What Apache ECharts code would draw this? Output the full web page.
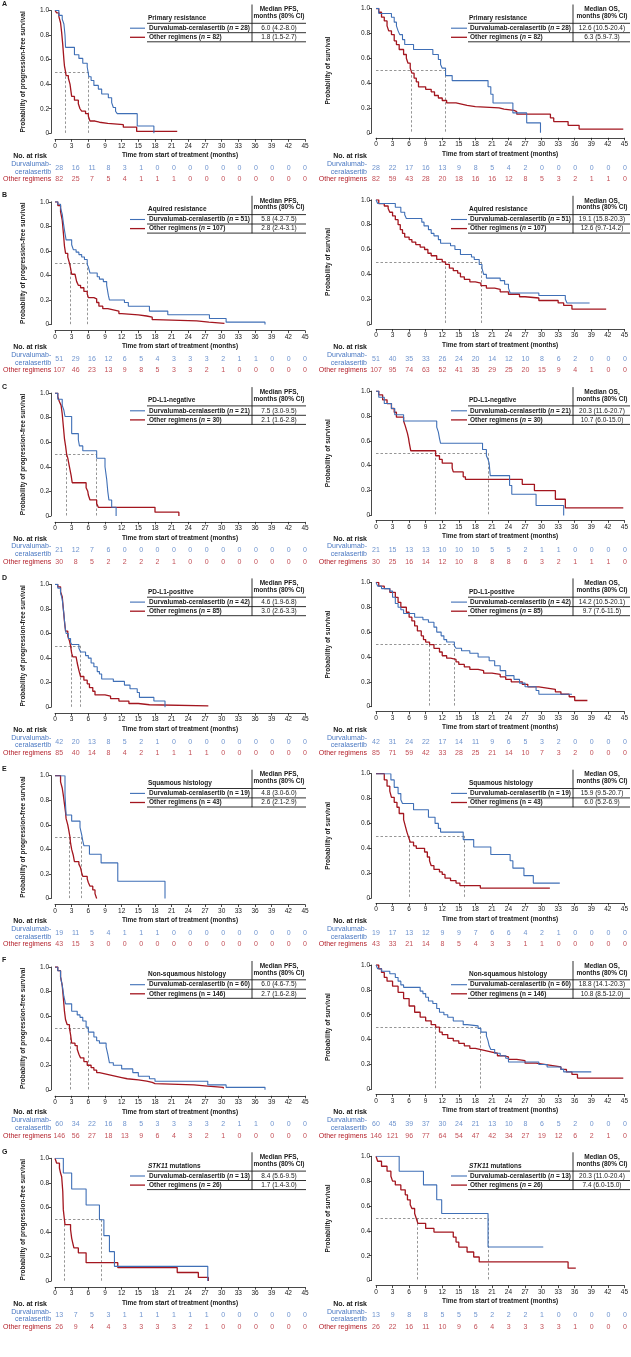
<!DOCTYPE html>
<html><head><meta charset="utf-8">
<script src="https://cdn.jsdelivr.net/npm/echarts@6/dist/echarts.min.js"></script>
<style>html,body{margin:0;padding:0;background:#fff}#c{width:631px;height:1357px}</style>
</head><body><div id="c"></div>
<script>
// ---------- DATA ----------
const panelLetters = ['A','B','C','D','E','F','G'];
const subgroupNames = ['Primary resistance','Aquired resistance','PD-L1-negative','PD-L1-positive','Squamous histology','Non-squamous histology','STK11 mutations'];
const italicN = [true,true,true,true,false,false,true];
const nDurva = [28,51,21,42,19,60,13];
const nOther = [82,107,30,85,43,146,26];
const pfsMedianDurva = [6.0,5.8,7.5,4.6,4.8,6.0,8.4];
const pfsMedianOther = [1.8,2.8,2.1,3.0,2.6,2.7,1.7];
const osMedianDurva = [12.6,19.1,20.3,14.2,15.9,18.8,20.3];
const osMedianOther = [6.3,12.6,10.7,9.7,6.0,10.8,7.4];
const pfsCiDurva = ['(4.2-8.0)','(4.2-7.5)','(3.0-9.5)','(1.9-6.8)','(3.0-6.0)','(4.6-7.5)','(5.6-9.5)'];
const pfsCiOther = ['(1.5-2.7)','(2.4-3.1)','(1.6-2.8)','(2.6-3.3)','(2.1-2.9)','(1.6-2.8)','(1.4-3.0)'];
const osCiDurva = ['(10.5-20.4)','(15.8-20.3)','(11.6-20.7)','(10.5-20.1)','(9.5-20.7)','(14.1-20.3)','(11.0-20.4)'];
const osCiOther = ['(5.9-7.3)','(9.7-14.2)','(6.0-15.0)','(7.6-11.5)','(5.2-6.9)','(8.5-12.0)','(6.0-15.0)'];
const riskTimes = [0,3,6,9,12,15,18,21,24,27,30,33,36,39,42,45];
const xTicksMax = 45;

const pfsRiskDurva = [
 [28,16,11,8,3,1,0,0,0,0,0,0,0,0,0,0],
 [51,29,16,12,6,5,4,3,3,3,2,1,1,0,0,0],
 [21,12,7,6,0,0,0,0,0,0,0,0,0,0,0,0],
 [42,20,13,8,5,2,1,0,0,0,0,0,0,0,0,0],
 [19,11,5,4,1,1,1,0,0,0,0,0,0,0,0,0],
 [60,34,22,16,8,5,3,3,3,3,2,1,1,0,0,0],
 [13,7,5,3,1,1,1,1,1,1,0,0,0,0,0,0]];
const pfsRiskOther = [
 [82,25,7,5,4,1,1,1,0,0,0,0,0,0,0,0],
 [107,46,23,13,9,8,5,3,3,2,1,0,0,0,0,0],
 [30,8,5,2,2,2,2,1,0,0,0,0,0,0,0,0],
 [85,40,14,8,4,2,1,1,1,1,0,0,0,0,0,0],
 [43,15,3,0,0,0,0,0,0,0,0,0,0,0,0,0],
 [146,56,27,18,13,9,6,4,3,2,1,0,0,0,0,0],
 [26,9,4,4,3,3,3,3,2,1,0,0,0,0,0,0]];
const osRiskDurva = [
 [28,22,17,16,13,9,8,5,4,2,0,0,0,0,0,0],
 [51,40,35,33,26,24,20,14,12,10,8,6,2,0,0,0],
 [21,15,13,13,10,10,10,5,5,2,1,1,0,0,0,0],
 [42,31,24,22,17,14,11,9,6,5,3,2,0,0,0,0],
 [19,17,13,12,9,9,7,6,6,4,2,1,0,0,0,0],
 [60,45,39,37,30,24,21,13,10,8,6,5,2,0,0,0],
 [13,9,8,8,5,5,5,2,2,2,1,0,0,0,0,0]];
const osRiskOther = [
 [82,59,43,28,20,18,16,16,12,8,5,3,2,1,1,0],
 [107,95,74,63,52,41,35,29,25,20,15,9,4,1,0,0],
 [30,25,16,14,12,10,8,8,8,6,3,2,1,1,1,0],
 [85,71,59,42,33,28,25,21,14,10,7,3,2,0,0,0],
 [43,33,21,14,8,5,4,3,3,1,1,0,0,0,0,0],
 [146,121,96,77,64,54,47,42,34,27,19,12,6,2,1,0],
 [26,22,16,11,10,9,6,4,3,3,3,3,1,0,0,0]];

// Kaplan-Meier curves [months, probability]
const pfsDurvaA = [[0,1],[0.7,0.96],[1.3,0.93],[1.6,0.89],[1.8,0.8],[1.9,0.7],[3.5,0.64],[4.3,0.61],[5.0,0.57],[5.8,0.54],[6.1,0.46],[6.5,0.43],[7.0,0.39],[7.8,0.36],[8.4,0.32],[9.6,0.29],[10.2,0.25],[10.5,0.21],[10.9,0.18],[11.2,0.16],[14.8,0.06],[17.8,0]];
const pfsOtherA = [[0,1],[0.3,0.98],[0.7,0.95],[1.0,0.9],[1.2,0.82],[1.4,0.72],[1.6,0.6],[1.7,0.55],[1.9,0.5],[2.0,0.47],[2.4,0.45],[2.7,0.4],[3.0,0.3],[3.5,0.27],[4.2,0.24],[4.5,0.2],[4.8,0.18],[5.5,0.16],[6.0,0.14],[6.3,0.1],[7.2,0.09],[8.0,0.08],[9.5,0.07],[12.3,0.05],[14.7,0.015],[22,0.015]];
const osDurvaA = [[0,1],[0.5,0.96],[2.8,0.93],[3.3,0.89],[3.7,0.86],[4.0,0.82],[4.3,0.79],[4.8,0.75],[5.2,0.71],[6.8,0.67],[10.3,0.63],[11.3,0.59],[11.7,0.55],[12.0,0.52],[12.6,0.46],[13.8,0.42],[20.3,0.37],[20.8,0.31],[21.2,0.24],[24.8,0.16],[27.3,0.08],[29.8,0]];
const osOtherA = [[0,1],[0.5,0.97],[1.0,0.93],[1.5,0.9],[2.0,0.86],[2.3,0.82],[2.8,0.79],[3.3,0.74],[3.7,0.71],[4.2,0.67],[5.0,0.63],[5.5,0.6],[5.8,0.56],[6.2,0.52],[6.5,0.48],[6.9,0.44],[7.3,0.41],[7.7,0.37],[9.0,0.35],[10.0,0.33],[10.6,0.3],[11.3,0.28],[12.0,0.26],[12.8,0.24],[14.5,0.23],[15.5,0.22],[16.5,0.21],[18,0.2],[22.3,0.19],[23.2,0.18],[25.0,0.17],[25.5,0.15],[31.6,0.12],[32.2,0.09],[34.8,0.06],[36.8,0.03],[44.8,0.03]];

const pfsDurvaB = [[0,1],[0.5,0.98],[1.0,0.95],[1.3,0.9],[1.5,0.83],[1.7,0.77],[2.0,0.69],[3.0,0.65],[3.3,0.61],[3.8,0.59],[4.3,0.57],[4.8,0.55],[5.3,0.53],[5.8,0.49],[6.0,0.47],[6.3,0.42],[7.6,0.39],[8.0,0.37],[8.7,0.35],[9.3,0.32],[9.6,0.24],[9.8,0.2],[12.5,0.18],[13.2,0.15],[17.0,0.11],[20.3,0.08],[27.8,0.05],[30.8,0.02],[37.8,0]];
const pfsOtherB = [[0,1],[0.5,0.97],[1.0,0.92],[1.3,0.85],[1.5,0.75],[1.7,0.64],[1.9,0.58],[2.3,0.55],[2.6,0.5],[2.8,0.46],[3.0,0.41],[3.6,0.4],[3.9,0.35],[4.2,0.32],[4.6,0.3],[5.2,0.27],[5.8,0.25],[6.0,0.22],[7.0,0.21],[7.5,0.18],[7.9,0.15],[8.6,0.13],[9.5,0.12],[10.5,0.11],[11.5,0.09],[12.0,0.08],[15.0,0.07],[16.5,0.06],[17.5,0.04],[18.0,0.03],[25.5,0.02],[27.7,0.01],[30.5,0.01]];
const osDurvaB = [[0,1],[0.3,0.97],[3.5,0.94],[4.5,0.9],[5.2,0.88],[5.5,0.85],[8.3,0.82],[8.7,0.79],[9.5,0.76],[10.0,0.73],[10.5,0.71],[11.3,0.68],[11.7,0.65],[13.5,0.63],[14.3,0.6],[15.3,0.56],[17.3,0.54],[17.8,0.52],[18.7,0.48],[19.2,0.45],[19.5,0.4],[20.0,0.37],[22.5,0.35],[23.3,0.32],[24.0,0.29],[24.3,0.25],[29.5,0.23],[34.3,0.2],[34.6,0.17],[38.7,0.17]];
const osOtherB = [[0,1],[0.5,0.97],[1.5,0.95],[2.2,0.93],[2.5,0.9],[3.0,0.87],[3.5,0.84],[4.0,0.8],[4.4,0.76],[4.8,0.73],[5.2,0.7],[6.0,0.68],[6.5,0.66],[7.2,0.64],[8.0,0.62],[8.8,0.6],[9.4,0.57],[10.0,0.55],[11.0,0.52],[12.0,0.5],[12.6,0.48],[13.3,0.45],[14.0,0.43],[14.8,0.41],[15.3,0.38],[16.0,0.36],[17.0,0.34],[18.0,0.33],[19.0,0.31],[20.0,0.29],[21.5,0.28],[22.5,0.26],[24.0,0.24],[26.0,0.22],[27.0,0.21],[29.5,0.19],[33.0,0.17],[34.0,0.15],[35.5,0.12],[41.7,0.12]];

const pfsDurvaC = [[0,1],[0.5,0.95],[1.3,0.9],[1.6,0.86],[1.8,0.81],[3.0,0.67],[4.2,0.62],[4.4,0.57],[5.0,0.53],[7.5,0.47],[9.0,0.4],[9.3,0.3],[9.5,0.2],[9.7,0.13],[10.2,0.07],[11.0,0]];
const pfsOtherC = [[0,1],[0.5,0.97],[0.8,0.93],[1.1,0.9],[1.3,0.83],[1.5,0.73],[1.7,0.63],[1.9,0.57],[2.1,0.5],[2.3,0.47],[2.6,0.4],[2.9,0.33],[3.1,0.27],[5.6,0.23],[5.9,0.2],[6.0,0.17],[6.3,0.13],[7.5,0.1],[7.8,0.07],[18.0,0.03],[22.3,0]];
const osDurvaC = [[0,1],[0.5,0.95],[1.5,0.9],[2.8,0.86],[3.4,0.81],[5.0,0.76],[11.0,0.71],[11.3,0.67],[11.5,0.62],[11.7,0.58],[19.3,0.53],[20.0,0.48],[20.3,0.45],[20.5,0.42],[20.7,0.32],[24.2,0.24],[24.6,0.17],[29.0,0.08],[34.0,0]];
const osOtherC = [[0,1],[0.5,0.97],[1.2,0.93],[2.0,0.9],[2.8,0.86],[3.3,0.83],[3.7,0.79],[5.0,0.76],[5.3,0.72],[5.5,0.69],[5.7,0.66],[5.9,0.62],[6.0,0.59],[6.3,0.52],[10.8,0.48],[11.5,0.45],[12.0,0.42],[13.8,0.38],[14.0,0.35],[15.8,0.31],[16.2,0.29],[26.5,0.25],[28.7,0.2],[32.5,0.13],[34.3,0.06],[44.8,0.06]];

const pfsDurvaD = [[0,1],[0.5,0.97],[1.0,0.93],[1.3,0.88],[1.6,0.76],[1.8,0.66],[2.0,0.6],[2.4,0.56],[2.8,0.53],[3.0,0.51],[4.3,0.48],[4.6,0.45],[5.5,0.42],[6.0,0.4],[6.5,0.36],[7.0,0.33],[7.6,0.29],[8.0,0.27],[8.4,0.23],[10.5,0.21],[12.5,0.18],[13.5,0.15],[14.8,0.12],[15.2,0.08],[17.8,0.05],[19.8,0]];
const pfsOtherD = [[0,1],[0.5,0.98],[1.0,0.94],[1.3,0.9],[1.5,0.8],[1.7,0.7],[1.9,0.62],[2.3,0.58],[2.6,0.54],[2.8,0.5],[3.0,0.44],[3.2,0.41],[3.8,0.4],[4.0,0.36],[4.3,0.3],[4.6,0.25],[5.2,0.22],[5.8,0.19],[6.2,0.16],[6.8,0.13],[7.2,0.1],[9.0,0.09],[10.0,0.07],[11.5,0.05],[13.3,0.03],[15.0,0.02],[17.0,0.01],[27.6,0.01]];
const osDurvaD = [[0,1],[0.3,0.97],[1.0,0.95],[2.5,0.93],[3.0,0.88],[3.5,0.83],[4.0,0.8],[4.5,0.78],[5.0,0.75],[7.0,0.72],[8.5,0.7],[9.5,0.68],[10.5,0.64],[11.0,0.6],[11.8,0.57],[12.3,0.54],[12.8,0.52],[14.2,0.49],[14.5,0.47],[15.5,0.45],[17.0,0.43],[18.5,0.4],[20.5,0.37],[21.5,0.33],[22.5,0.29],[23.5,0.25],[25.0,0.22],[26.0,0.19],[27.0,0.16],[29.0,0.13],[29.5,0.1],[35.5,0.1]];
const osOtherD = [[0,1],[0.5,0.97],[1.5,0.95],[2.5,0.92],[3.5,0.88],[4.0,0.84],[4.5,0.8],[5.5,0.76],[6.0,0.72],[6.5,0.69],[7.0,0.65],[7.5,0.61],[8.2,0.57],[8.6,0.54],[9.0,0.52],[9.7,0.5],[10.5,0.47],[11.5,0.44],[12.0,0.41],[12.8,0.39],[13.5,0.38],[14.5,0.36],[15.0,0.34],[16.0,0.32],[17.0,0.3],[18.5,0.29],[19.5,0.27],[21.0,0.26],[22.5,0.24],[23.5,0.22],[24.5,0.2],[26.5,0.18],[27.5,0.16],[29.5,0.15],[31.0,0.14],[32.5,0.12],[33.5,0.1],[35.0,0.08],[36.0,0.05],[38.3,0.05]];

const pfsDurvaE = [[0,1],[1.8,0.84],[2.0,0.68],[3.0,0.63],[4.5,0.58],[4.8,0.52],[5.0,0.47],[5.2,0.43],[6.2,0.36],[8.3,0.29],[11.3,0.14],[19.8,0]];
const pfsOtherE = [[0,1],[1.0,0.95],[1.3,0.9],[1.5,0.84],[1.7,0.77],[1.9,0.7],[2.0,0.65],[2.3,0.6],[2.5,0.55],[2.7,0.5],[2.8,0.45],[3.0,0.4],[3.3,0.35],[3.5,0.3],[4.3,0.28],[4.6,0.25],[4.8,0.21],[5.0,0.18],[5.8,0.16],[6.0,0.13],[6.3,0.1],[6.8,0.07],[7.2,0.04],[7.5,0]];
const osDurvaE = [[0,1],[2.7,0.95],[3.3,0.89],[4.0,0.84],[4.5,0.79],[4.8,0.76],[6.8,0.71],[9.5,0.65],[10.7,0.6],[11.3,0.56],[11.7,0.53],[15.8,0.47],[17.7,0.41],[20.8,0.35],[24.3,0.3],[24.8,0.24],[26.8,0.18],[28.5,0.12],[33.3,0.12]];
const osOtherE = [[0,1],[1.5,0.95],[2.0,0.9],[2.5,0.86],[2.8,0.81],[3.3,0.77],[3.8,0.73],[4.2,0.68],[5.0,0.63],[5.3,0.58],[5.6,0.53],[5.9,0.49],[6.2,0.45],[6.8,0.42],[7.3,0.4],[8.8,0.37],[9.3,0.33],[9.7,0.3],[10.0,0.26],[10.5,0.23],[11.5,0.21],[12.0,0.19],[12.5,0.16],[13.5,0.14],[14.5,0.12],[15.2,0.1],[18.9,0.08],[31.5,0.08]];

const pfsDurvaF = [[0,1],[0.5,0.97],[1.0,0.92],[1.3,0.85],[1.6,0.76],[1.9,0.7],[3.0,0.64],[4.0,0.61],[4.5,0.59],[5.0,0.56],[5.6,0.51],[6.0,0.47],[7.0,0.43],[7.5,0.4],[8.0,0.38],[9.2,0.35],[9.5,0.29],[9.8,0.22],[10.5,0.2],[12.0,0.17],[14.0,0.14],[15.0,0.11],[17.0,0.09],[18.0,0.07],[27.5,0.04],[30.8,0.02],[37.8,0]];
const pfsOtherF = [[0,1],[0.5,0.97],[1.0,0.92],[1.3,0.85],[1.5,0.75],[1.7,0.64],[1.9,0.57],[2.2,0.53],[2.6,0.5],[2.8,0.45],[3.0,0.38],[3.6,0.36],[4.0,0.33],[4.3,0.29],[4.6,0.26],[5.2,0.23],[5.8,0.2],[6.5,0.18],[7.0,0.16],[7.5,0.14],[8.0,0.13],[9.0,0.12],[10.0,0.11],[11.0,0.1],[12.0,0.09],[13.0,0.08],[15.0,0.07],[16.5,0.06],[17.5,0.05],[18.0,0.04],[25.0,0.03],[27.5,0.02],[30.3,0.01]];
const osDurvaF = [[0,1],[0.3,0.97],[1.0,0.95],[2.5,0.93],[3.5,0.9],[4.0,0.87],[4.5,0.84],[5.0,0.82],[8.0,0.79],[8.5,0.77],[9.0,0.74],[9.5,0.71],[10.3,0.69],[11.0,0.65],[11.5,0.62],[12.3,0.6],[13.0,0.58],[14.0,0.55],[15.8,0.52],[16.5,0.51],[18.5,0.49],[19.0,0.46],[20.0,0.43],[20.3,0.39],[20.5,0.35],[20.8,0.32],[21.5,0.29],[22.5,0.27],[23.5,0.25],[24.0,0.22],[29.5,0.2],[31.0,0.18],[33.5,0.16],[34.0,0.14],[39.0,0.14]];
const osOtherF = [[0,1],[0.5,0.97],[1.0,0.94],[1.5,0.9],[2.0,0.87],[3.0,0.83],[4.0,0.78],[5.0,0.73],[6.0,0.67],[7.0,0.62],[8.0,0.58],[9.0,0.55],[10.0,0.52],[10.8,0.5],[11.5,0.46],[12.0,0.44],[13.0,0.41],[14.0,0.39],[15.0,0.37],[16.0,0.35],[17.0,0.33],[18.0,0.32],[19.0,0.31],[20.0,0.3],[21.0,0.29],[22.0,0.27],[23.0,0.26],[24.0,0.24],[25.5,0.23],[27.0,0.21],[29.0,0.2],[30.5,0.19],[32.0,0.18],[33.5,0.16],[34.5,0.14],[35.5,0.12],[36.5,0.09],[44.8,0.09]];

const pfsDurvaG = [[0,1],[1.5,0.88],[3.0,0.75],[5.6,0.62],[8.0,0.5],[8.8,0.37],[9.8,0.24],[10.7,0.12],[27.5,0]];
const pfsOtherG = [[0,1],[0.3,0.96],[0.8,0.92],[1.0,0.88],[1.2,0.85],[1.4,0.73],[1.5,0.58],[1.7,0.5],[1.8,0.46],[2.8,0.42],[3.0,0.35],[3.2,0.31],[3.4,0.27],[4.2,0.23],[5.6,0.15],[11.3,0.11],[22.0,0.07],[25.8,0.03],[27.6,0]];
const osDurvaG = [[0,1],[4.2,0.88],[8.6,0.77],[11.0,0.65],[11.9,0.54],[20.3,0.27],[30.3,0.27]];
const osOtherG = [[0,1],[0.3,0.96],[1.0,0.92],[2.0,0.88],[2.7,0.84],[3.0,0.8],[3.5,0.77],[4.5,0.73],[5.3,0.69],[5.7,0.65],[6.2,0.61],[6.5,0.58],[7.0,0.54],[7.3,0.5],[7.6,0.46],[9.0,0.42],[10.5,0.39],[14.0,0.35],[14.5,0.31],[15.0,0.27],[16.5,0.23],[17.7,0.19],[18.7,0.15],[34.8,0.1],[36.2,0.1]];

const pfsDurvaCurves = [pfsDurvaA,pfsDurvaB,pfsDurvaC,pfsDurvaD,pfsDurvaE,pfsDurvaF,pfsDurvaG];
const pfsOtherCurves = [pfsOtherA,pfsOtherB,pfsOtherC,pfsOtherD,pfsOtherE,pfsOtherF,pfsOtherG];
const osDurvaCurves = [osDurvaA,osDurvaB,osDurvaC,osDurvaD,osDurvaE,osDurvaF,osDurvaG];
const osOtherCurves = [osOtherA,osOtherB,osOtherC,osOtherD,osOtherE,osOtherF,osOtherG];

// ---------- BUILD ----------
const FF = '"Liberation Sans", Arial, Helvetica, sans-serif';
const BLUE = '#3f6fb6', RED = '#a3161f', BLUE_T = '#4a78c2', RED_T = '#b3202a', INK = '#1a1a1a';
const PITCH = 191.3;
const grids = [], xAxes = [], yAxes = [], series = [], graphics = [];

const geoms = [
  {left:55, width:250, top:10.5, height:122.8, yOff:4, xOff:6, yGap:24.5, yMargin:2,
   yName:'Probability of progression-free survival', med:'Median PFS,',
   lx0:130, lx1:145, tx:149, h0:147, h1:306, vx:252, vcx:279, riskLabelX:47},
  {left:376, width:249, top:8.5, height:124.3, yOff:4.5, xOff:5, yGap:40, yMargin:1.5,
   yName:'Probability of survival', med:'Median OS,',
   lx0:451, lx1:467, tx:470, h0:468, h1:630, vx:573, vcx:602, riskLabelX:367}
];

function txt(x, y, text, opts) {
  opts = opts || {};
  const st = Object.assign({
    text: text,
    font: (opts.bold ? 'bold ' : '') + (opts.size || 6.5) + 'px ' + FF,
    fill: opts.color || INK,
    textAlign: opts.align || 'left', align: opts.align || 'left',
    textVerticalAlign: 'middle', verticalAlign: 'middle'
  }, opts.rich ? {rich: opts.rich} : {});
  graphics.push({type:'text', x:x, y:y, silent:true, style: st});
}
function ln(x1, y1, x2, y2, color, w) {
  graphics.push({type:'line', silent:true, shape:{x1:x1,y1:y1,x2:x2,y2:y2}, style:{stroke:color||INK, lineWidth:w||0.8}});
}
const richBase = {
  b:{fontWeight:'bold', fontSize:6.5, fontFamily:FF, fill:INK, color:INK},
  bi:{fontWeight:'bold', fontStyle:'italic', fontSize:6.5, fontFamily:FF, fill:INK, color:INK}
};

function addPanel(r, side) {
  const g = geoms[side];
  const oy = r * PITCH;
  const dC = side === 0 ? pfsDurvaCurves[r] : osDurvaCurves[r];
  const oC = side === 0 ? pfsOtherCurves[r] : osOtherCurves[r];
  const mD = side === 0 ? pfsMedianDurva[r] : osMedianDurva[r];
  const mO = side === 0 ? pfsMedianOther[r] : osMedianOther[r];
  const cD = side === 0 ? pfsCiDurva[r] : osCiDurva[r];
  const cO = side === 0 ? pfsCiOther[r] : osCiOther[r];
  const rD = side === 0 ? pfsRiskDurva[r] : osRiskDurva[r];
  const rO = side === 0 ? pfsRiskOther[r] : osRiskOther[r];

  // main KM grid
  const gi = grids.length;
  grids.push({left:g.left, top:oy+g.top, width:g.width, height:g.height});
  xAxes.push({gridIndex:gi, type:'value', min:0, max:xTicksMax, interval:3, offset:g.xOff,
    axisLine:{show:true, onZero:false, lineStyle:{color:INK, width:0.8}},
    axisTick:{show:true, length:2.5, lineStyle:{color:INK, width:0.8}},
    axisLabel:{fontSize:6.5, color:INK, margin:3, fontFamily:FF},
    splitLine:{show:false},
    name:'Time from start of treatment (months)', nameLocation:'middle', nameGap:12.5,
    nameTextStyle:{fontSize:6.5, fontWeight:'bold', color:INK, fontFamily:FF}});
  yAxes.push({gridIndex:gi, type:'value', min:0, max:1, interval:0.2, offset:g.yOff,
    axisLine:{show:true, onZero:false, lineStyle:{color:INK, width:0.8}},
    axisTick:{show:true, length:2.5, lineStyle:{color:INK, width:0.8}},
    axisLabel:{fontSize:6.5, color:INK, margin:g.yMargin, fontFamily:FF,
      formatter: v => v === 0 ? '0' : v.toFixed(1)},
    splitLine:{show:false},
    name:g.yName, nameLocation:'middle', nameGap:g.yGap,
    nameTextStyle:{fontSize:6.5, fontWeight:'bold', color:INK, fontFamily:FF}});

  const mMax = Math.max(mD, mO);
  series.push({type:'lines', coordinateSystem:'cartesian2d', xAxisIndex:gi, yAxisIndex:gi, silent:true, z:1,
    lineStyle:{color:'#8a8a8a', width:0.9, type:[2.5,2], opacity:1},
    data:[{coords:[[0,0.5],[mMax,0.5]]},{coords:[[mD,0.5],[mD,0]]},{coords:[[mO,0.5],[mO,0]]}]});
  series.push({type:'line', xAxisIndex:gi, yAxisIndex:gi, data:oC, step:'end', symbol:'none', silent:true, z:3,
    lineStyle:{color:RED, width:1.3}});
  series.push({type:'line', xAxisIndex:gi, yAxisIndex:gi, data:dC, step:'end', symbol:'none', silent:true, z:4,
    lineStyle:{color:BLUE, width:1.1}});

  // at-risk grid
  const gr = grids.length;
  grids.push({left:g.left, top:oy+162, width:g.width, height:23});
  xAxes.push({gridIndex:gr, type:'value', min:0, max:xTicksMax, show:false});
  yAxes.push({gridIndex:gr, type:'category', data:['D','O'], inverse:true,
    axisLine:{show:false}, axisTick:{show:false}, splitLine:{show:false},
    axisLabel:{interval:0, hideOverlap:false, margin:g.left - g.riskLabelX, fontFamily:FF, align:'right',
      formatter: v => v === 'D' ? '{b|Durvalumab-}\n{b|ceralasertib}' : '{r|Other regimens}',
      rich:{b:{color:BLUE_T, fontSize:7, lineHeight:7.7, fontFamily:FF, align:'right'},
            r:{color:RED_T, fontSize:7, fontFamily:FF, align:'right'}}}});
  series.push({type:'scatter', xAxisIndex:gr, yAxisIndex:gr, silent:true, symbolSize:1,
    itemStyle:{color:'rgba(0,0,0,0)'},
    data: riskTimes.map((t,i) => [t, 0, rD[i]]),
    label:{show:true, position:'inside', formatter: p => String(p.value[2]), color:BLUE_T, fontSize:7, fontFamily:FF}});
  series.push({type:'scatter', xAxisIndex:gr, yAxisIndex:gr, silent:true, symbolSize:1,
    itemStyle:{color:'rgba(0,0,0,0)'},
    data: riskTimes.map((t,i) => [t, 1, rO[i]]),
    label:{show:true, position:'inside', formatter: p => String(p.value[2]), color:RED_T, fontSize:7, fontFamily:FF}});
  txt(g.riskLabelX, oy+156, 'No. at risk', {bold:true, size:7, align:'right'});

  // legend table
  const header = r === 6 ? '{bi|STK11}{b| mutations}' : '{b|' + subgroupNames[r] + '}';
  txt(g.tx - 1, oy+18, header, {rich:richBase});
  txt(g.vcx, oy+9.5, g.med, {bold:true, align:'center'});
  txt(g.vcx, oy+16.3, 'months (80% CI)', {bold:true, align:'center'});
  ln(g.vx, oy+4.5, g.vx, oy+42, INK, 0.9);
  ln(g.h0, oy+23.3, g.h1, oy+23.3, INK, 0.9);
  ln(g.h0, oy+32.7, g.h1, oy+32.7, INK, 0.9);
  ln(g.h0, oy+41.8, g.h1, oy+41.8, INK, 0.9);
  ln(g.lx0, oy+28.2, g.lx1, oy+28.2, BLUE, 1.1);
  ln(g.lx0, oy+37.3, g.lx1, oy+37.3, RED, 1.3);
  const nTag = italicN[r] ? '{bi|n}' : '{b|n}';
  txt(g.tx, oy+28.2, '{b|Durvalumab-ceralasertib (}' + nTag + '{b| = ' + nDurva[r] + ')}', {rich:richBase});
  txt(g.tx, oy+37.3, '{b|Other regimens (}' + nTag + '{b| = ' + nOther[r] + ')}', {rich:richBase});
  txt(g.vcx, oy+28.2, mD.toFixed(1) + ' ' + cD, {align:'center'});
  txt(g.vcx, oy+37.3, mO.toFixed(1) + ' ' + cO, {align:'center'});

  if (side === 0) txt(2, oy+4, panelLetters[r], {bold:true, size:7});
}

for (let r = 0; r < 7; r++) { addPanel(r, 0); addPanel(r, 1); }

const chart = echarts.init(document.getElementById('c'), null, {renderer:'canvas'});
chart.setOption({
  animation:false,
  backgroundColor:'#ffffff',
  textStyle:{fontFamily:FF},
  grid:grids, xAxis:xAxes, yAxis:yAxes, series:series, graphic:graphics
});
</script>
</body></html>
